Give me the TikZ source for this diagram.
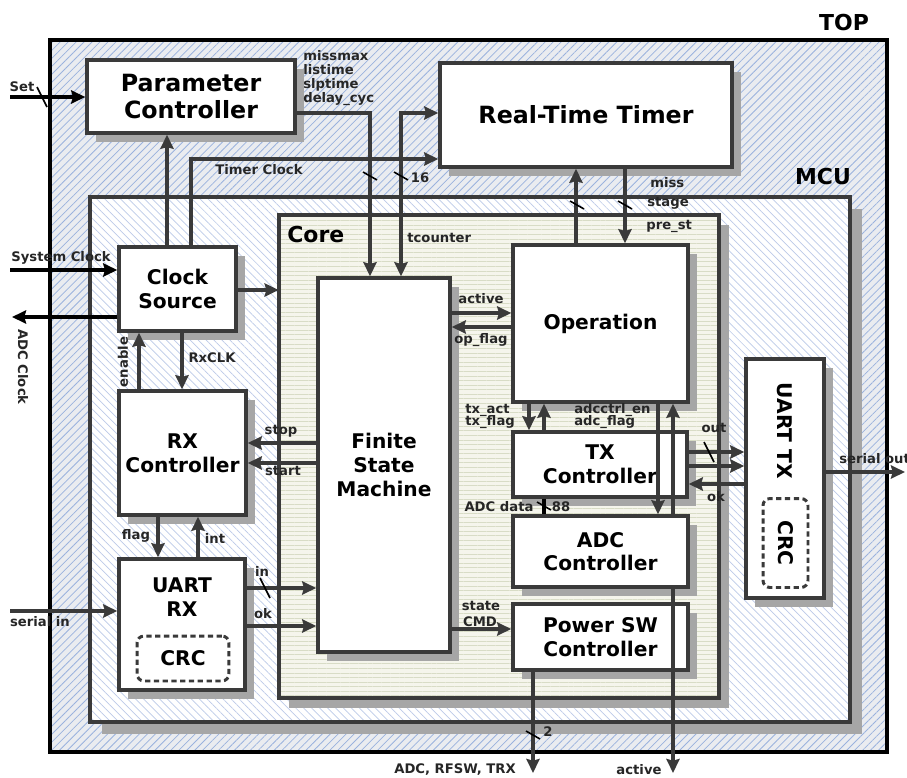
\documentclass[tikz,border=0pt]{standalone}
\usepackage{fontspec}
\setmainfont{DejaVu Sans}
\usetikzlibrary{arrows.meta,positioning,shadows,patterns.meta}
\definecolor{edge}{HTML}{3A3A3A}
\definecolor{shade}{HTML}{A6A6A6}
\definecolor{topbg}{HTML}{EAECF0}
\definecolor{tophatch}{HTML}{9AB2DE}
\definecolor{mcuhatch}{HTML}{BCCAE8}
\definecolor{corebg}{HTML}{F5F5EC}
\definecolor{corehatch}{HTML}{D8DCC6}

\begin{document}
\begin{tikzpicture}[x=0.02cm, y=-0.02cm,
    >={Stealth[length=8pt,width=7.5pt,inset=1pt]},
    cont/.style={draw=edge, line width=2pt, inner sep=0pt},
    blk/.style={draw=edge, fill=white, line width=2pt, align=center, inner sep=0pt,
        font=\bfseries\fontsize{11.5}{13.5}\selectfont,
        drop shadow={shadow xshift=0.18cm, shadow yshift=-0.18cm, fill=shade, opacity=1}},
    bigblk/.style={blk, font=\bfseries\fontsize{13.5}{15.8}\selectfont},
    boxtext/.style={font=\bfseries\fontsize{11.5}{13.5}\selectfont, align=center, inner sep=0pt},
    crcbox/.style={draw=edge, line width=1.7pt, dash pattern=on 3pt off 2pt, rounded corners=4pt,
        inner sep=0pt, font=\bfseries\fontsize{11.5}{13.5}\selectfont},
    conn/.style={draw=edge, line width=1.9pt, ->},
    ext/.style={conn, draw=black},
    lbl/.style={font=\bfseries\fontsize{7.5}{8}\selectfont, text=black!85, inner sep=0pt},
    ttl/.style={font=\bfseries\fontsize{12.5}{14}\selectfont, inner sep=0pt},
    hbus/.pic={\draw[line width=0.9pt] (-5,-10) -- (5,10);},
    vbus/.pic={\draw[line width=0.9pt] (-7,-4) -- (7,4);}
]
\useasboundingbox (0,0) rectangle (907,778);

% containers
\node[cont, draw=black, line width=2.3pt, preaction={fill=topbg},
    pattern={Lines[angle=45,distance=3.2pt,line width=0.45pt]}, pattern color=tophatch,
    minimum width=16.74cm, minimum height=14.24cm] (top) at (468.5,396) {};
\node[cont, drop shadow={shadow xshift=0.24cm, shadow yshift=-0.24cm, fill=shade, opacity=1},
    preaction={fill=white},
    pattern={Lines[angle=-45,distance=3.2pt,line width=0.4pt]}, pattern color=mcuhatch,
    minimum width=15.2cm, minimum height=10.5cm] (mcu) at (470,459.5) {};
\node[cont, drop shadow={shadow xshift=0.2cm, shadow yshift=-0.2cm, fill=shade, opacity=1},
    preaction={fill=corebg},
    pattern={Lines[angle=0,distance=2.6pt,line width=0.45pt]}, pattern color=corehatch,
    minimum width=8.8cm, minimum height=9.66cm] (core) at (499,456.5) {};
\node[ttl] (toplbl) at (844,23) {TOP};
\node[ttl] (mculbl) at (823,177) {MCU};
\node[ttl, anchor=west] (corelbl) at (287,234) {Core};

% blocks
\node[bigblk, minimum width=4.16cm, minimum height=1.46cm] (param) at (191,96.5) {Parameter\\Controller};
\node[bigblk, minimum width=5.84cm, minimum height=2.08cm] (rtt) at (586,115) {Real-Time Timer};
\node[blk, minimum width=2.34cm, minimum height=1.68cm] (clk) at (177.5,289) {Clock\\Source};
\node[blk, minimum width=2.54cm, minimum height=2.48cm] (rxc) at (182.5,453) {RX\\Controller};
\node[blk, minimum width=2.52cm, minimum height=2.62cm] (uartrx) at (182,624.5) {};
\node[boxtext] (uartrxlbl) at (182,597) {UART\\RX};
\node[crcbox, minimum width=1.84cm, minimum height=0.9cm] (rxcrc) at (183,658.5) {CRC};
\node[blk, minimum width=2.64cm, minimum height=7.48cm] (fsm) at (384,465) {Finite\\State\\Machine};
\node[blk, minimum width=3.5cm, minimum height=3.14cm] (op) at (600.5,323.5) {Operation};
\node[blk, minimum width=3.48cm, minimum height=1.3cm] (txc) at (600,464.5) {TX\\Controller};
\node[blk, minimum width=3.5cm, minimum height=1.42cm] (adc) at (600.5,551.5) {ADC\\Controller};
\node[blk, minimum width=3.5cm, minimum height=1.32cm] (psw) at (600.5,637) {Power SW\\Controller};
\node[blk, minimum width=1.56cm, minimum height=4.78cm] (uarttx) at (785,478.5) {};
\node[boxtext, rotate=-90] (uarttxlbl) at (785,431) {UART TX};
\node[crcbox, rotate=-90, minimum width=1.78cm, minimum height=0.9cm] (txcrc) at (785.5,543) {CRC};

% free ends
\coordinate (setin) at (10,97);
\coordinate (sysin) at (10,270);
\coordinate (adcclk) at (12,317);
\coordinate (serin) at (10,611);
\coordinate (serout) at (905,472);
\coordinate (pswout) at (533,773);
\coordinate (actout) at (673,773);

% connectors
\draw[ext] (setin) -- (param.west |- setin);
\draw[ext] (sysin) -- (clk.west |- sysin);
\draw[ext] (clk.west |- adcclk) -- (adcclk);
\draw[conn] (serin) -- (uartrx.west |- serin);
\draw[conn] (clk.north -| 167,0) -- (param.south -| 167,0);
\draw[conn] (clk.north -| 191,0) |- (rtt.west |- 0,159);
\draw[conn] (param.east |- 0,113) -| (fsm.north -| 370,0);
\draw[conn, <->] (fsm.north -| 401,0) |- (rtt.west |- 0,113);
\draw[conn] (op.north -| 576,0) -- (rtt.south -| 576,0);
\draw[conn] (rtt.south -| 625,0) -- (op.north -| 625,0);
\draw[conn] (clk.east |- 0,290) -- (core.west |- 0,290);
\draw[conn] (clk.south -| 182,0) -- (rxc.north -| 182,0);
\draw[conn] (rxc.north -| 139,0) -- (clk.south -| 139,0);
\draw[conn] (fsm.west |- 0,443) -- (rxc.east |- 0,443);
\draw[conn] (fsm.west |- 0,463) -- (rxc.east |- 0,463);
\draw[conn] (rxc.south -| 158,0) -- (uartrx.north -| 158,0);
\draw[conn] (uartrx.north -| 198,0) -- (rxc.south -| 198,0);
\draw[conn] (uartrx.east |- 0,588) -- (fsm.west |- 0,588);
\draw[conn] (uartrx.east |- 0,626) -- (fsm.west |- 0,626);
\draw[conn] (fsm.east |- 0,313) -- (op.west |- 0,313);
\draw[conn] (op.west |- 0,327) -- (fsm.east |- 0,327);
\draw[conn] (op.south -| 529,0) -- (txc.north -| 529,0);
\draw[conn] (txc.north -| 544,0) -- (op.south -| 544,0);
\draw[conn] (op.south -| 658,0) -- (adc.north -| 658,0);
\draw[conn] (adc.north -| 673,0) -- (op.south -| 673,0);
\draw[conn] (adc.south -| 673,0) -- (actout);
\draw[line width=2pt] (txc.south -| 544,0) -- (adc.north -| 544,0);
\draw[conn] (txc.east |- 0,452) -- (uarttx.west |- 0,452);
\draw[conn] (txc.east |- 0,466) -- (uarttx.west |- 0,466);
\draw[conn] (uarttx.west |- 0,484) -- (txc.east |- 0,484);
\draw[conn] (uarttx.east |- 0,472) -- (serout);
\draw[conn] (fsm.east |- 0,629) -- (psw.west |- 0,629);
\draw[conn] (psw.south -| 533,0) -- (pswout);

% bus width marks
\pic at (42,97) {hbus};
\pic at (265,588) {hbus};
\pic at (709,452) {hbus};
\pic at (370,176) {vbus};
\pic at (401,176) {vbus};
\pic at (577,205) {vbus};
\pic at (625,205) {vbus};
\pic at (544,506) {vbus};
\pic at (533,735) {vbus};

% labels
\node[lbl] (setlbl) at (22,87) {Set};
\node[lbl, align=left, anchor=north west] (parlbl) at (303,50) {missmax\\listime\\slptime\\delay\_cyc};
\node[lbl] (tclklbl) at (259,170) {Timer Clock};
\node[lbl] (w16) at (420,178) {16};
\node[lbl, anchor=west] (tcntlbl) at (407,238) {tcounter};
\node[lbl, anchor=west] (misslbl) at (650,183) {miss};
\node[lbl, anchor=west] (stagelbl) at (647,203) {stage};
\node[lbl, anchor=west] (prelbl) at (646,226) {pre\_st};
\node[lbl] (sysclklbl) at (61,258) {System Clock};
\node[lbl, rotate=-90] (adcclklbl) at (23,367) {ADC Clock};
\node[lbl, rotate=90] (enlbl) at (123,362) {enable};
\node[lbl] (rxclklbl) at (212,358) {RxCLK};
\node[lbl] (stoplbl) at (281,431) {stop};
\node[lbl] (startlbl) at (283,471) {start};
\node[lbl] (flaglbl) at (136,536) {flag};
\node[lbl] (intlbl) at (215,538) {int};
\node[lbl] (inlbl) at (262,571) {in};
\node[lbl] (oklbl) at (263,614) {ok};
\node[lbl] (serinlbl) at (40,622) {serial in};
\node[lbl] (actlbl) at (481,299) {active};
\node[lbl] (opflaglbl) at (481,340) {op\_flag};
\node[lbl, anchor=west] (txactlbl) at (465,410) {tx\_act};
\node[lbl, anchor=west] (txflaglbl) at (465,422) {tx\_flag};
\node[lbl, anchor=west] (adcenlbl) at (574,410) {adcctrl\_en};
\node[lbl, anchor=west] (adcflaglbl) at (574,422) {adc\_flag};
\node[lbl] (adcdatalbl) at (499,507) {ADC data};
\node[lbl] (w88) at (561,507) {88};
\node[lbl] (outlbl) at (714,428) {out};
\node[lbl] (txoklbl) at (716,497) {ok};
\node[lbl, anchor=west] (seroutlbl) at (839,459) {serial out};
\node[lbl] (statelbl) at (481,606) {state};
\node[lbl] (cmdlbl) at (480,622) {CMD};
\node[lbl] (w2) at (548,732) {2};
\node[lbl] (pswoutlbl) at (455,770) {ADC, RFSW, TRX};
\node[lbl] (actoutlbl) at (639,770) {active};
\end{tikzpicture}
\end{document}
